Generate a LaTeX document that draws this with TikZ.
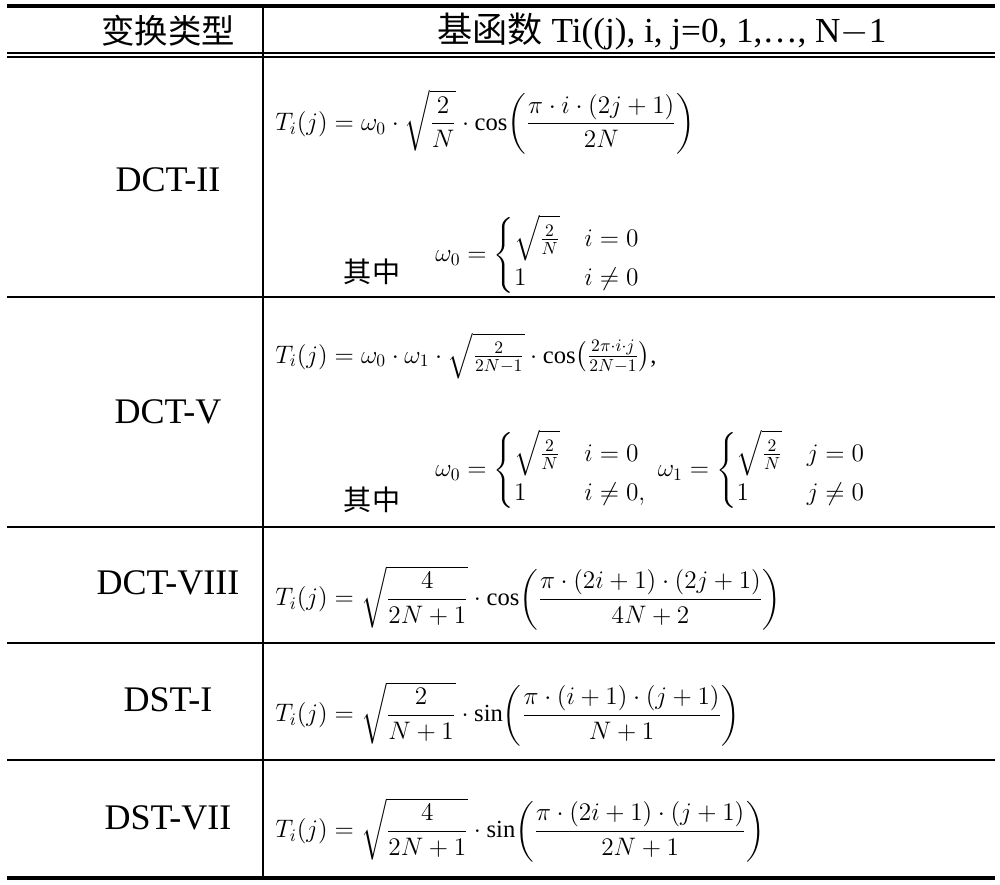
\documentclass[tikz,border=0pt]{standalone}
\usepackage{amsmath}
\usepackage{fontspec}
\setmainfont{Liberation Serif}
\newfontfamily\cjk{Noto Sans CJK SC}
\begin{document}
\begin{tikzpicture}[x=0.02cm,y=-0.02cm,
  lab/.style={font=\fontsize{20.5}{24}\selectfont},
  frm/.style={anchor=west,inner sep=0pt,font=\fontsize{14}{16}\selectfont},
  cjkl/.style={font=\cjk\fontsize{16}{19}\selectfont}]
\useasboundingbox (0,0) rectangle (1000,885);
\draw[line width=2.5pt] (7,6) -- (995,6);
\draw[line width=1.2pt] (7,53) -- (995,53);
\draw[line width=0.6pt] (7,57) -- (995,57);
\foreach \y in {297,527,643,760} \draw[line width=0.7pt] (7,\y) -- (995,\y);
\draw[line width=2.5pt] (7,878) -- (995,878);
\draw[line width=0.7pt] (263,6) -- (263,878);
\node[font=\cjk\fontsize{19}{22}\selectfont] (h1) at (168,31) {变换类型};
\node[font=\fontsize{20}{24}\selectfont] (h2) at (662,31) {{\cjk 基函数} Ti((j), i, j=0, 1,…, N$-$1};
\node[lab] (l1) at (168,180) {DCT-II};
\node[lab] (l2) at (168,412) {DCT-V};
\node[lab] (l3) at (168,583) {DCT-VIII};
\node[lab] (l4) at (168,700) {DST-I};
\node[lab] (l5) at (168,818) {DST-VII};
\node[frm] (f1) at (275,122) {$T_i(j)=\omega_0\cdot\sqrt{\dfrac{2}{N}}\cdot\cos\!\left(\dfrac{\pi\cdot i\cdot(2j+1)}{2N}\right)$};
\node[frm] (c1) at (435,255) {$\omega_0=\begin{cases}\sqrt{\frac{2}{N}} & i=0\\ 1 & i\neq 0\end{cases}$};
\node[cjkl] (q1) at (372,272) {其中};
\node[frm] (f2) at (275,356) {$T_i(j)=\omega_0\cdot\omega_1\cdot\sqrt{\frac{2}{2N-1}}\cdot\cos\!\left(\frac{2\pi\cdot i\cdot j}{2N-1}\right)$,};
\node[frm] (c2) at (435,470) {$\omega_0=\begin{cases}\sqrt{\frac{2}{N}} & i=0\\ 1 & i\neq 0,\end{cases}\ \omega_1=\begin{cases}\sqrt{\frac{2}{N}} & j=0\\ 1 & j\neq 0\end{cases}$};
\node[cjkl] (q2) at (372,500) {其中};
\node[frm] (f3) at (275,598) {$T_i(j)=\sqrt{\dfrac{4}{2N+1}}\cdot\cos\!\left(\dfrac{\pi\cdot(2i+1)\cdot(2j+1)}{4N+2}\right)$};
\node[frm] (f4) at (275,714) {$T_i(j)=\sqrt{\dfrac{2}{N+1}}\cdot\sin\!\left(\dfrac{\pi\cdot(i+1)\cdot(j+1)}{N+1}\right)$};
\node[frm] (f5) at (275,830) {$T_i(j)=\sqrt{\dfrac{4}{2N+1}}\cdot\sin\!\left(\dfrac{\pi\cdot(2i+1)\cdot(j+1)}{2N+1}\right)$};
\end{tikzpicture}
\end{document}
